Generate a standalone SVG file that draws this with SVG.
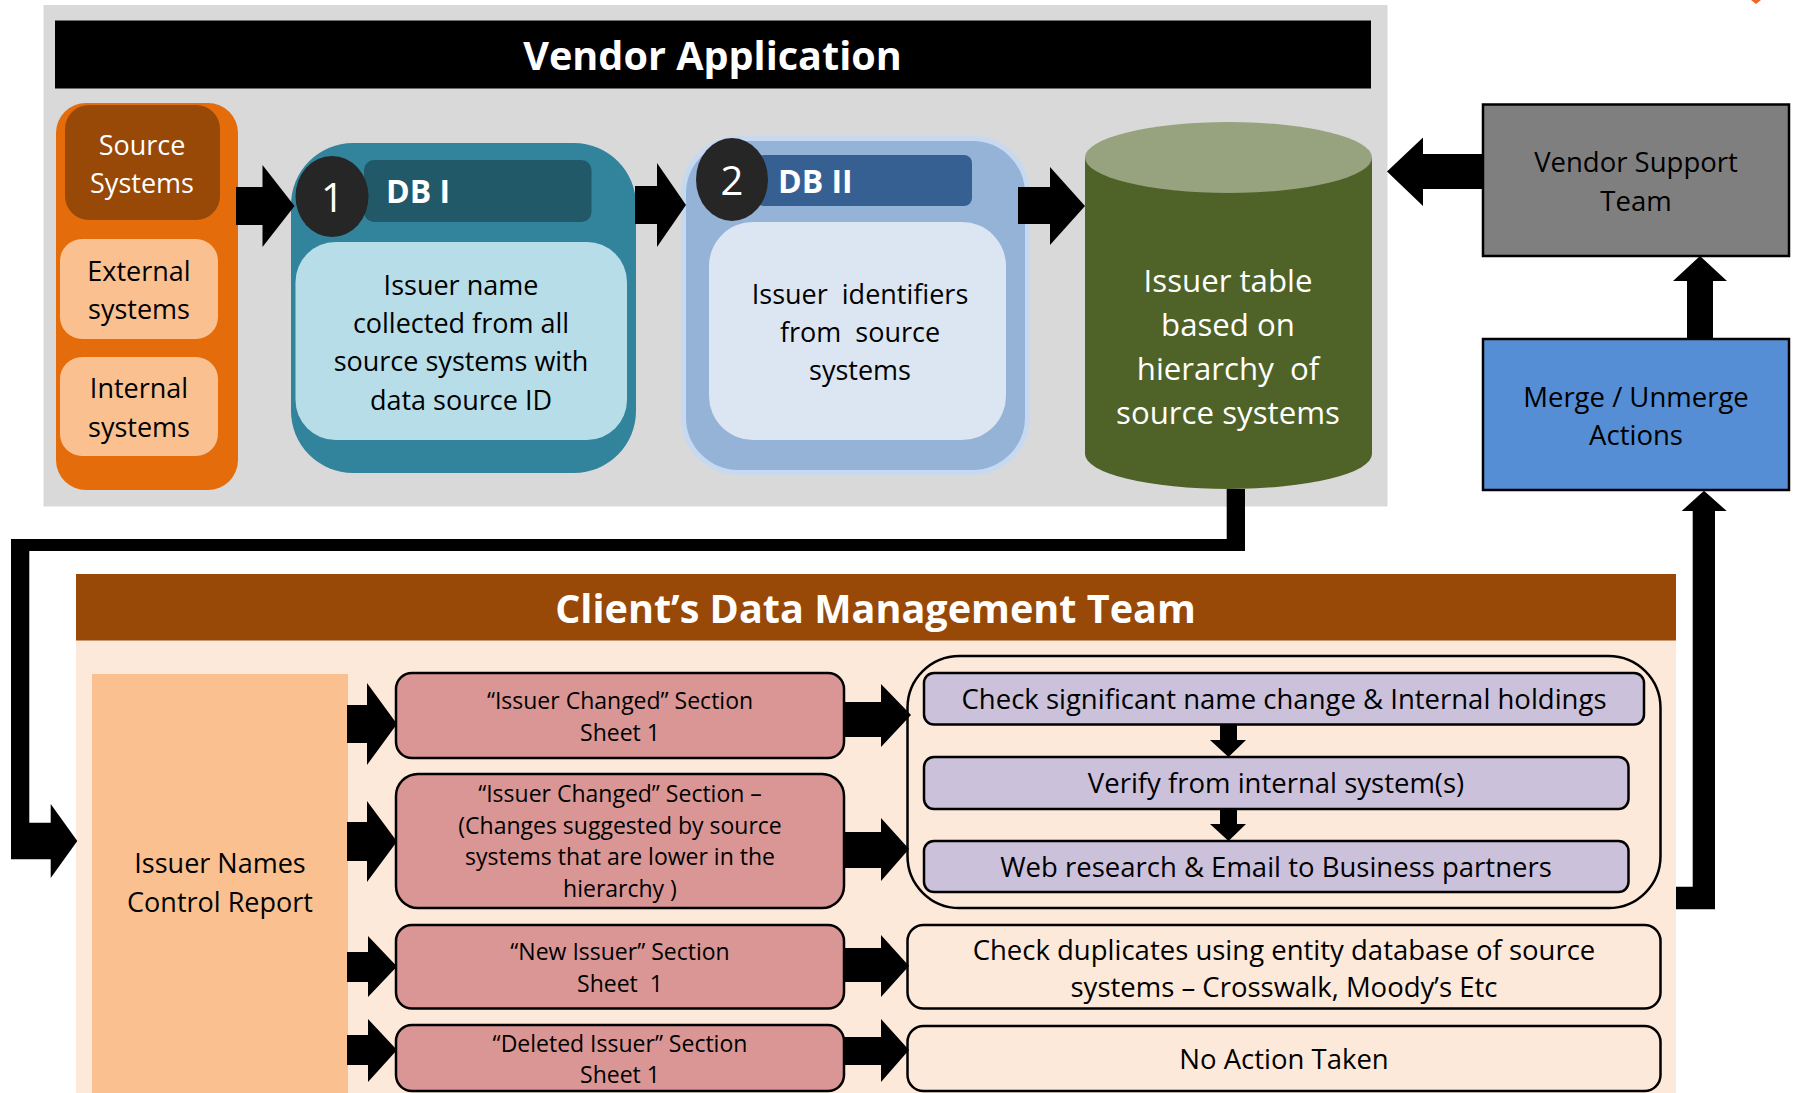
<svg xmlns="http://www.w3.org/2000/svg" width="1795" height="1093" viewBox="0 0 1795 1093">
<style>
text{font-family:"Open Sans","Noto Sans","Liberation Sans",sans-serif;text-anchor:middle;white-space:pre}
.t27{font-size:27px}
.t275{font-size:27.5px}
.t31{font-size:31.2px}
.t22{font-size:23px}
.title{font-size:39.6px;font-weight:bold;fill:#fff}
.w{fill:#fff}
.k{fill:#000}
.db{font-size:32px;font-weight:bold;fill:#fff;text-anchor:start}
.num{font-size:40px;fill:#fff}
.arr{fill:#000}
.pink{fill:#D99694;stroke:#000;stroke-width:2.5}
.purp{fill:#CCC1DA;stroke:#000;stroke-width:2.5}
.pbox{fill:#FDE9D9;stroke:#000;stroke-width:2.5}
</style>
<rect width="1795" height="1093" fill="#fff"/>
<polygon points="1751,0 1761,0 1756,4" fill="#F26522"/>

<g id="vendor-application">
<rect x="43.5" y="5" width="1344" height="501.5" fill="#D9D9D9"/>
<rect x="55" y="20.5" width="1316" height="68" fill="#000"/>
<text class="title" x="712.5" y="70">Vendor Application</text>
</g>

<g id="source-systems-group">
<rect x="56" y="103" width="182" height="387" rx="30" fill="#E46C0A"/>
</g>
<g id="source-systems">
<rect x="65" y="105" width="155" height="115" rx="24" fill="#984807"/>
<text class="t27 w" x="142" y="155">Source</text>
<text class="t27 w" x="142" y="193">Systems</text>
</g>
<g id="external-systems">
<rect x="60" y="239" width="158" height="100" rx="22" fill="#FAC090"/>
<text class="t27 k" x="139" y="281">External</text>
<text class="t27 k" x="139" y="319">systems</text>
</g>
<g id="internal-systems">
<rect x="60" y="357" width="158" height="99" rx="22" fill="#FAC090"/>
<text class="t27 k" x="139" y="398">Internal</text>
<text class="t27 k" x="139" y="437">systems</text>
</g>

<g id="db1">
<rect x="291" y="143" width="345" height="330" rx="62" fill="#31849B"/>
<rect x="364" y="160" width="227.5" height="62" rx="10" fill="#215968"/>
<ellipse cx="332" cy="196.5" rx="36.5" ry="40.5" fill="#262626"/>
<text class="num" x="332.5" y="212">1</text>
<text class="db" x="386" y="203">DB I</text>
<rect x="295.5" y="242" width="331.5" height="198" rx="40" fill="#B7DDE8"/>
<text class="t27 k" x="461" y="295">Issuer name</text>
<text class="t27 k" x="461" y="333">collected from all</text>
<text class="t27 k" x="461" y="371">source systems with</text>
<text class="t27 k" x="461" y="410">data source ID</text>
</g>

<g id="db2">
<rect x="683.5" y="138.5" width="344" height="334" rx="55" fill="#95B3D7" stroke="#C6D9F1" stroke-width="5"/>
<rect x="756" y="155" width="216" height="51" rx="8" fill="#376092"/>
<ellipse cx="732" cy="179.5" rx="36" ry="41.5" fill="#262626"/>
<text class="num" x="732" y="195">2</text>
<text class="db" x="778" y="193">DB II</text>
<rect x="709" y="222" width="297" height="218" rx="44" fill="#DCE6F2"/>
<text class="t27 k" x="860" y="304">Issuer  identifiers</text>
<text class="t27 k" x="860" y="342">from  source</text>
<text class="t27 k" x="860" y="380">systems</text>
</g>

<g id="issuer-table">
<path d="M1085 157.5 V454 A143.5 35 0 0 0 1372 454 V157.5 Z" fill="#4F6228"/>
<ellipse cx="1228.5" cy="157.5" rx="143.5" ry="35.5" fill="#97A27E"/>
<text class="t31 w" x="1228" y="292">Issuer table</text>
<text class="t31 w" x="1228" y="336">based on</text>
<text class="t31 w" x="1228" y="380">hierarchy  of</text>
<text class="t31 w" x="1228" y="424">source systems</text>
</g>

<g id="vendor-support-team">
<rect x="1483" y="104.5" width="306" height="151.5" fill="#7F7F7F" stroke="#000" stroke-width="2.5"/>
<text class="t275 k" x="1636" y="172">Vendor Support</text>
<text class="t275 k" x="1636" y="211">Team</text>
</g>

<g id="merge-unmerge">
<rect x="1483" y="339" width="306" height="151" fill="#558ED5" stroke="#000" stroke-width="2.5"/>
<text class="t275 k" x="1636" y="407">Merge / Unmerge</text>
<text class="t275 k" x="1636" y="445">Actions</text>
</g>

<g id="client-team">
<rect x="76" y="640" width="1600" height="453" fill="#FDE9D9"/>
<rect x="76" y="574" width="1600" height="66.5" fill="#984807"/>
<text class="title" x="875.5" y="623">Client’s Data Management Team</text>
</g>

<g id="control-report">
<rect x="92" y="674" width="256" height="419" fill="#FAC090"/>
<text class="t27 k" x="220" y="873">Issuer Names</text>
<text class="t27 k" x="220" y="912">Control Report</text>
</g>

<g id="sec-issuer-changed">
<rect class="pink" x="396" y="673" width="448" height="85" rx="16"/>
<text class="t22 k" x="620" y="708.5">“Issuer Changed” Section</text>
<text class="t22 k" x="620" y="741">Sheet 1</text>
</g>
<g id="sec-issuer-changed-lower">
<rect class="pink" x="396" y="774" width="448" height="134" rx="22"/>
<text class="t22 k" x="620" y="801.5">“Issuer Changed” Section –</text>
<text class="t22 k" x="620" y="833.5">(Changes suggested by source</text>
<text class="t22 k" x="620" y="865">systems that are lower in the</text>
<text class="t22 k" x="620" y="897">hierarchy )</text>
</g>
<g id="sec-new-issuer">
<rect class="pink" x="396" y="925" width="448" height="83.5" rx="16"/>
<text class="t22 k" x="620" y="960">“New Issuer” Section</text>
<text class="t22 k" x="620" y="991.5">Sheet  1</text>
</g>
<g id="sec-deleted-issuer">
<rect class="pink" x="396" y="1025" width="448" height="66" rx="16"/>
<text class="t22 k" x="620" y="1051.5">“Deleted Issuer” Section</text>
<text class="t22 k" x="620" y="1083">Sheet 1</text>
</g>

<g id="checks-group">
<rect class="pbox" x="907.5" y="656" width="753" height="252" rx="52"/>
</g>
<g id="check-name-change">
<rect class="purp" x="924" y="673" width="720" height="51.5" rx="10"/>
<text class="t275 k" x="1284" y="709">Check significant name change &amp; Internal holdings</text>
</g>
<g id="verify-internal">
<rect class="purp" x="924" y="757" width="704.5" height="52" rx="10"/>
<text class="t275 k" x="1276" y="793">Verify from internal system(s)</text>
</g>
<g id="web-research">
<rect class="purp" x="924" y="841" width="704.5" height="51" rx="10"/>
<text class="t275 k" x="1276" y="877">Web research &amp; Email to Business partners</text>
</g>
<g id="check-duplicates">
<rect class="pbox" x="907.5" y="925" width="753" height="83.5" rx="16"/>
<text class="t275 k" x="1284" y="960">Check duplicates using entity database of source</text>
<text class="t275 k" x="1284" y="997">systems – Crosswalk, Moody’s Etc</text>
</g>
<g id="no-action">
<rect class="pbox" x="907.5" y="1026" width="753" height="65" rx="16"/>
<text class="t275 k" x="1284" y="1069">No Action Taken</text>
</g>

<g id="connectors">
<path class="arr" d="M236 187 H262.5 V165 L294.5 206 L262.5 247 V225 H236 Z"/>
<path class="arr" d="M635 186 H657 V163 L686 205 L657 247 V224 H635 Z"/>
<path class="arr" d="M1018 187 H1050 V167 L1085 206 L1050 245 V224 H1018 Z"/>
<path class="arr" d="M1483 154 H1423 V137.5 L1387 171.5 L1423 206 V189 H1483 Z"/>
<path class="arr" d="M1687 339 V281 H1673 L1700 256 L1727 281 H1713 V339 Z"/>
<path class="arr" d="M1226.7 489 H1245 V551 H29.3 V822.7 H50.7 V804 L77.3 841 L50.7 878 V859.3 H11 V539 H1226.7 Z"/>
<path class="arr" d="M1676 886.7 H1692.7 V511 H1681.7 L1704 490.7 L1726.7 511 H1715 V909.3 H1676 Z"/>
<path class="arr" d="M347 705 H367 V683 L397 724 L367 765 V743 H347 Z"/>
<path class="arr" d="M347 822 H367 V801 L397 841.5 L367 882 V861 H347 Z"/>
<path class="arr" d="M347 952 H368 V936 L397 966.5 L368 997 V982 H347 Z"/>
<path class="arr" d="M347 1035 H368 V1019 L397 1050 L368 1082 V1065 H347 Z"/>
<path class="arr" d="M844 702 H881 V684 L911 715 L881 747 V737 H844 Z"/>
<path class="arr" d="M844 832 H881 V818 L909 849 L881 881 V868 H844 Z"/>
<path class="arr" d="M844 948 H881 V935 L909 966 L881 997 V982 H844 Z"/>
<path class="arr" d="M844 1037 H881 V1019 L909 1050 L881 1082 V1065 H844 Z"/>
<path class="arr" d="M1220 724 H1237 V740 H1246 L1228.5 757 L1210 740 H1220 Z"/>
<path class="arr" d="M1220 809 H1237 V824 H1246 L1228.5 841 L1210 824 H1220 Z"/>
</g>
</svg>
